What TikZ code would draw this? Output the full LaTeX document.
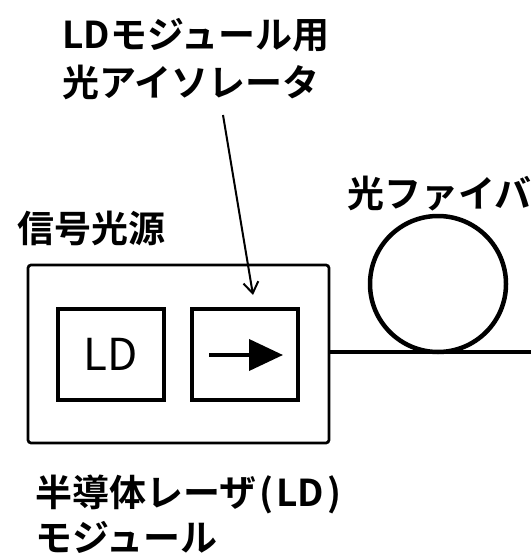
\documentclass[tikz,border=0pt]{standalone}
\usepackage{fontspec}
\setmainfont{Noto Sans CJK JP}[BoldFont={* Bold}]
\usetikzlibrary{arrows.meta}
\tikzset{
  lbl/.style={anchor=west,inner sep=0pt,font=\fontsize{37}{40}\selectfont\bfseries},
  box/.style={draw,line width=4pt,minimum width=106pt,minimum height=91pt,inner sep=0pt},
  outerbox/.style={draw,line width=2.7pt,rounded corners=3pt,minimum width=301pt,minimum height=178pt},
  fiber/.style={draw,circle,line width=4.5pt,minimum size=136pt,inner sep=0pt},
  pointer/.style={line width=2pt,-{Straight Barb[length=11pt,width=15pt,line width=2pt]}}
}
\begin{document}
\begin{tikzpicture}[x=1pt,y=-1pt]
\useasboundingbox (0,0) rectangle (531,556);
\node[lbl] (t1) at (62,35) {LDモジュール用};
\node[lbl] (t2) at (62,82) {光アイソレータ};
\node[lbl] (t3) at (347,194) {光ファイバ};
\node[lbl] (t4) at (17,228) {信号光源};
\node[lbl] (t5) at (35,494) {半導体レーザ\kern3pt(\kern3pt LD\kern3pt)};
\node[lbl] (t6) at (35,537) {モジュール};
\node[outerbox] (src) at (178.5,354) {};
\node[box] (ld) at (111,354.5) {\fontsize{44}{46}\selectfont LD};
\node[box] (iso) at (245,354) {};
\coordinate (a1) at (209,355);
\coordinate (a2) at (283,355);
\draw[line width=4pt,-{Triangle[length=34pt,width=31pt]}] (a1) -- (a2);
\node[fiber] (fc) at (438,284) {};
\coordinate (fend) at (531,352);
\draw[line width=4pt] (src.east |- fend) -- (fend);
\coordinate (p1) at (223,115);
\coordinate (p2) at (253,295);
\draw[pointer] (p1) -- (p2);
\end{tikzpicture}
\end{document}
